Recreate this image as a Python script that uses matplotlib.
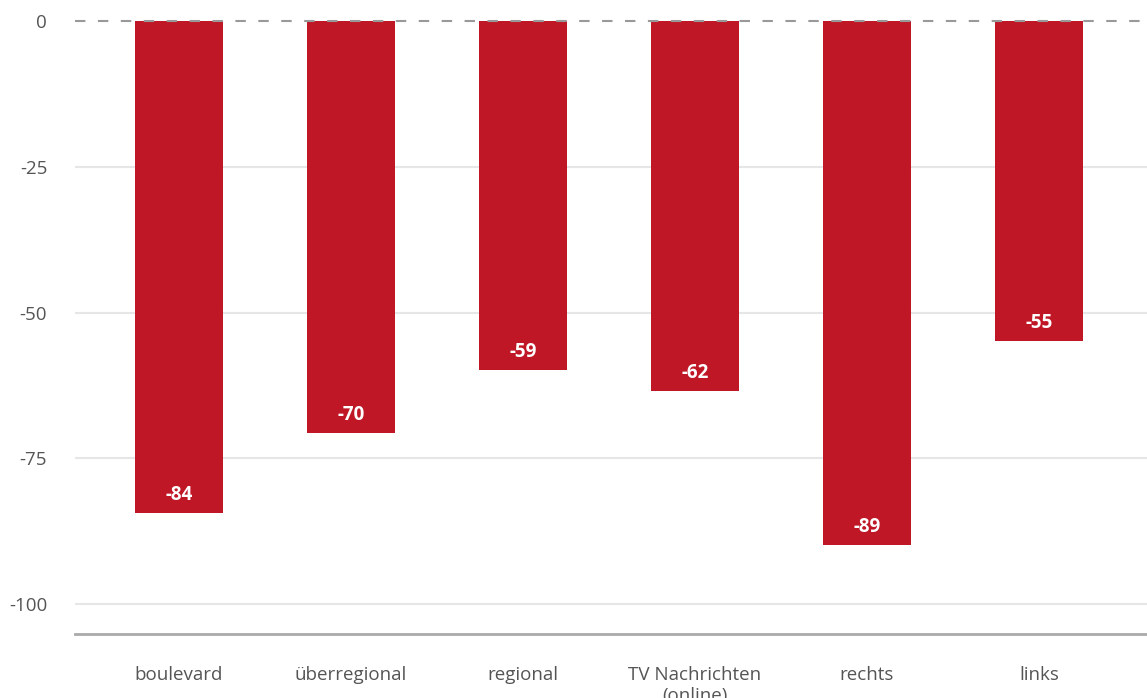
import matplotlib
matplotlib.use("Agg")
import matplotlib.pyplot as plt

categories = ["boulevard", "überregional", "regional", "TV Nachrichten\n(online)", "rechts", "links"]
values = [-84.4, -70.7, -59.9, -63.4, -89.8, -54.9]
value_labels = ["-84", "-70", "-59", "-62", "-89", "-55"]
yticks = [0, -25, -50, -75, -100]

plt.rcParams['font.family'] = ['Open Sans', 'DejaVu Sans']

W, H = 1147, 698
fig = plt.figure(figsize=(W / 100, H / 100), dpi=100)
ax = fig.add_axes([75 / W, (H - 634) / H, (W - 75) / W, 634 / H])

x = list(range(len(categories)))
ax.bar(x, values, width=0.51, color="#c01727", zorder=2)

for xi, v, lab in zip(x, values, value_labels):
    ax.annotate(lab, (xi, v), xytext=(0, 18), textcoords="offset pixels",
                ha="center", va="center", color="white", fontsize=13.5,
                fontweight="bold", zorder=4)

ax.set_xlim(-0.605, 5.628)
ax.set_ylim(-105.1, 3.6)

for t in yticks:
    if t == 0:
        ax.axhline(t, color="#999999", lw=1.5, ls=(0, (5, 6)), zorder=3)
    else:
        ax.axhline(t, color="#e6e6e6", lw=1.5, zorder=1)

ax.set_yticks(yticks)
ax.set_yticklabels([str(t) for t in yticks])
ax.set_xticks(x)
ax.set_xticklabels(categories)

ax.tick_params(axis="y", length=0, pad=20, labelsize=13.5, labelcolor="#555555")
ax.tick_params(axis="x", length=0, pad=23, labelsize=13.5, labelcolor="#555555")
for lab in ax.get_xticklabels():
    lab.set_verticalalignment("top")

for s in ["top", "right", "left"]:
    ax.spines[s].set_visible(False)
ax.spines["bottom"].set_color("#aaaaaa")
ax.spines["bottom"].set_linewidth(2)

fig.savefig("out.png", dpi=100)
